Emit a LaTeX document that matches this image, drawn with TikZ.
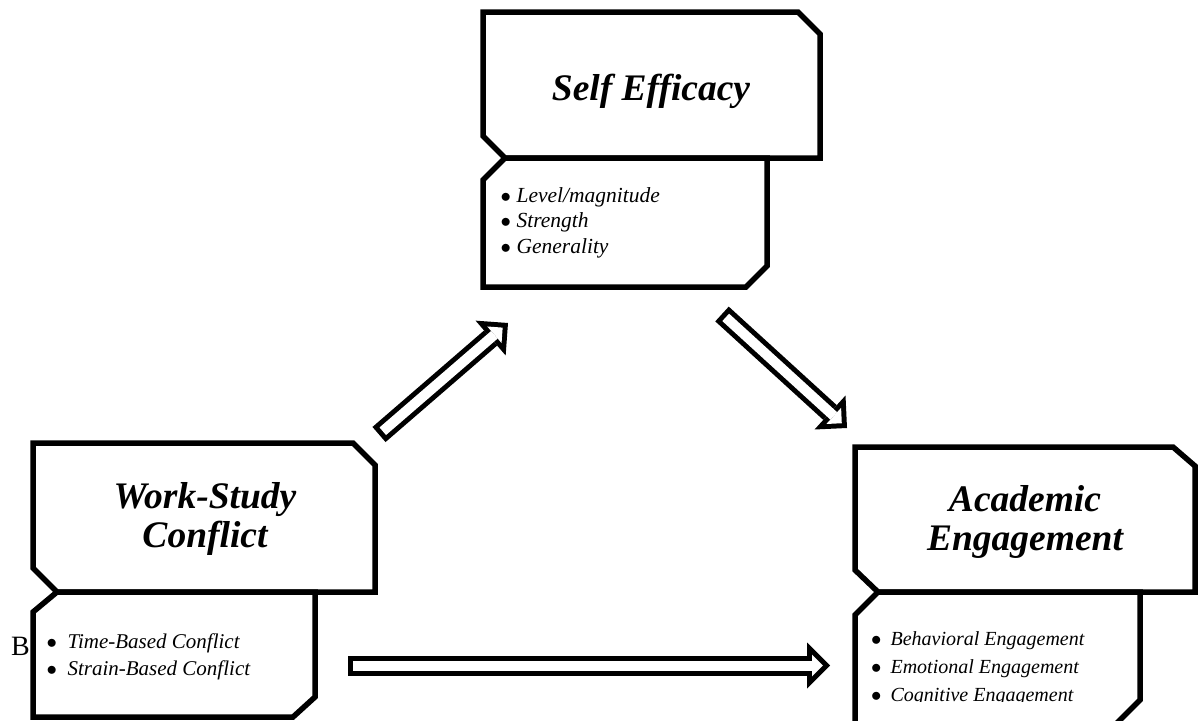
\documentclass[tikz,border=0pt]{standalone}
\usepackage{fontspec}
\setmainfont{Liberation Serif}
\usepackage{tikz}
\usetikzlibrary{arrows.meta}
\tikzset{
  >=latex,
  box/.style={line width=5.5pt,draw=black,fill=white,line join=miter},
  arrow out/.style={line width=20pt,black,-{Triangle[length=23pt,width=46pt,line width=0pt]}},
  arrow in/.style={line width=10pt,white,shorten <=5pt,shorten >=7.07pt,
    -{Triangle[length=10.9pt,width=21.9pt,line width=0pt]}}
}

\begin{document}
\begin{tikzpicture}[x=1pt, y=-1pt]

% Styles
\tikzstyle{title} = [font=\fontsize{37.5}{38.5}\selectfont\bfseries\itshape, align=center, inner sep=0pt, anchor=base]
\tikzstyle{items} = [font=\fontsize{21.5}{25.5}\selectfont\itshape, align=left, inner sep=0pt, anchor=base west]

\useasboundingbox (0,0) rectangle (1204,720);

% Lettre isolee
\node[font=\fontsize{28}{30}\selectfont, anchor=base west, inner sep=0pt] (B) at (11,655) {B};

% Self Efficacy
\draw[box] (483,12) -- (798,12) -- (820,34) -- (820,158) -- (505,158) -- (483,136) -- cycle;
\draw[box] (505,158) -- (767,158) -- (767,266) -- (746,287) -- (483,287) -- (483,180) -- cycle;
\node[title] (SE) at (651,100) {Self Efficacy};
\node[items] (SE-items) at (500.5,253)
  {$\bullet$\hspace{5.5pt}Level/magnitude\\$\bullet$\hspace{5.5pt}Strength\\$\bullet$\hspace{5.5pt}Generality};

% Work-Study Conflict
\draw[box] (33,443) -- (353,443) -- (375,465) -- (375,592) -- (57,592) -- (33,568) -- cycle;
\draw[box] (57,592) -- (315,592) -- (315,697) -- (293,717) -- (33,717) -- (33,612) -- cycle;
\node[title] (WS) at (205,547) {Work-Study\\Conflict};
\node[items, font=\fontsize{21}{27}\selectfont\itshape] (WS-items) at (46.5,675)
  {$\bullet$\hspace{10.5pt}Time-Based Conflict\\$\bullet$\hspace{10.5pt}Strain-Based Conflict};

% Academic Engagement
\draw[box] (855,447) -- (1173,447) -- (1195,466) -- (1195,592) -- (878,592) -- (855,570) -- cycle;
\draw[box] (878,592) -- (1140,592) -- (1140,700) -- (1116,724) -- (855,724) -- (855,615) -- cycle;
\node[title] (AE) at (1025,550) {Academic\\Engagement};
\begin{scope}
  \clip (860,600) rectangle (1136,701);
  \node[items, font=\fontsize{20}{28}\selectfont\itshape] (AE-items) at (871,701)
    {$\bullet$\hspace{9pt}Behavioral Engagement\\$\bullet$\hspace{9pt}Emotional Engagement\\$\bullet$\hspace{9pt}Cognitive Engagement};
\end{scope}

% Fleches
\coordinate (WS-SE-tail) at (379,434.5);
\coordinate (WS-SE-tip) at (508,323);
\coordinate (SE-AE-tail) at (722,314);
\coordinate (SE-AE-tip) at (847,428);
\coordinate (WS-AE-tail) at (348,665.5);
\coordinate (WS-AE-tip) at (830,665.5);

\foreach \a in {WS-SE,SE-AE,WS-AE} {
  \draw[arrow out] (\a-tail) -- (\a-tip);
  \draw[arrow in] (\a-tail) -- (\a-tip);
}

\end{tikzpicture}
\end{document}
